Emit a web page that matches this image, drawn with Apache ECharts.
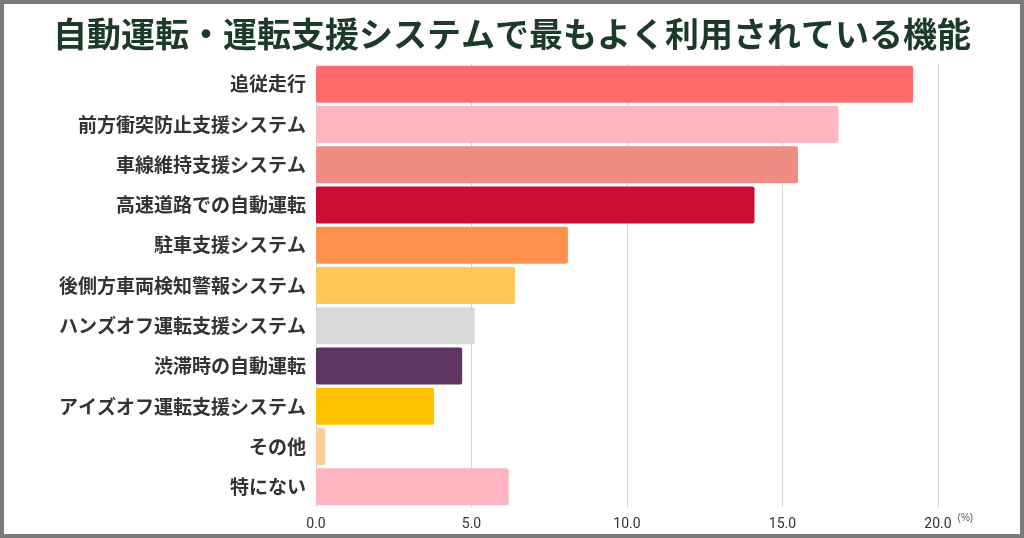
<!DOCTYPE html>
<html lang="ja">

<head>
    <meta charset="UTF-8">
    <title>自動運転・運転支援システムで最もよく利用されている機能</title>
    <script src="https://cdn.jsdelivr.net/npm/echarts@6.0.0/dist/echarts.min.js"></script>
</head>

<body style="margin:0;background-color:#ffffff;">
    <div id="main" style="position:absolute;left:0;top:0;width:1024px;height:538px;box-sizing:border-box;border:4px solid #7b7b7b;"></div>

    <script>
        // 上から順に
        var categories = ['追従走行', '前方衝突防止支援システム', '車線維持支援システム', '高速道路での自動運転',
            '駐車支援システム', '後側方車両検知警報システム', 'ハンズオフ運転支援システム', '渋滞時の自動運転',
            'アイズオフ運転支援システム', 'その他', '特にない'];
        var values = [19.2, 16.8, 15.5, 14.1, 8.1, 6.4, 5.1, 4.7, 3.8, 0.3, 6.2];
        var colors = ['#ff6b6b', '#ffb6c1', '#f08c84', '#cc0e37', '#ff914d', '#ffc857', '#d9d9d9',
            '#5e3563', '#ffc300', '#ffcc99', '#ffb6c1'];
        var xTicks = [0, 5, 10, 15, 20];

        var myCharts = echarts.init(document.getElementById('main'));
        var barData = [];
        values.forEach(function (v, i) {
            barData.push({
                value: v,
                itemStyle: { color: colors[i] }
            });
        });

        myCharts.setOption({
            title: {
                text: '自動運転・運転支援システムで最もよく利用されている機能',
                left: 'center',
                top: 8,
                textStyle: {
                    fontFamily: 'Noto Sans CJK JP',
                    fontWeight: 'bold',
                    fontSize: 34,
                    color: '#1c3a2a'
                }
            },
            grid: {
                left: 312,
                right: 82,
                top: 60,
                bottom: 27,
                containLabel: false
            },
            xAxis: {
                type: 'value',
                min: xTicks[0],
                max: xTicks[xTicks.length - 1],
                interval: 5,
                name: '(%)',
                nameGap: 10,
                nameTextStyle: {
                    fontSize: 10,
                    color: '#555',
                    verticalAlign: 'top',
                    padding: [6, 0, 0, 0]
                },
                axisLine: { show: false },
                axisTick: { show: false },
                axisLabel: {
                    fontFamily: 'Roboto',
                    fontSize: 14,
                    color: '#333',
                    margin: 10,
                    formatter: function (v) { return v.toFixed(1); }
                },
                splitLine: {
                    lineStyle: { color: '#d4d4d4', width: 1 }
                }
            },
            yAxis: {
                type: 'category',
                data: categories,
                inverse: true,
                axisLine: { show: false },
                axisTick: { show: false },
                axisLabel: {
                    fontFamily: 'Noto Sans CJK JP',
                    fontWeight: 'bold',
                    fontSize: 19,
                    color: '#333',
                    margin: 10,
                    padding: [0, 0, 6, 0]
                }
            },
            series: [{
                type: 'bar',
                data: barData,
                barWidth: 37,
                itemStyle: { borderRadius: 2 },
                animation: false
            }]
        });
    </script>
</body>

</html>
